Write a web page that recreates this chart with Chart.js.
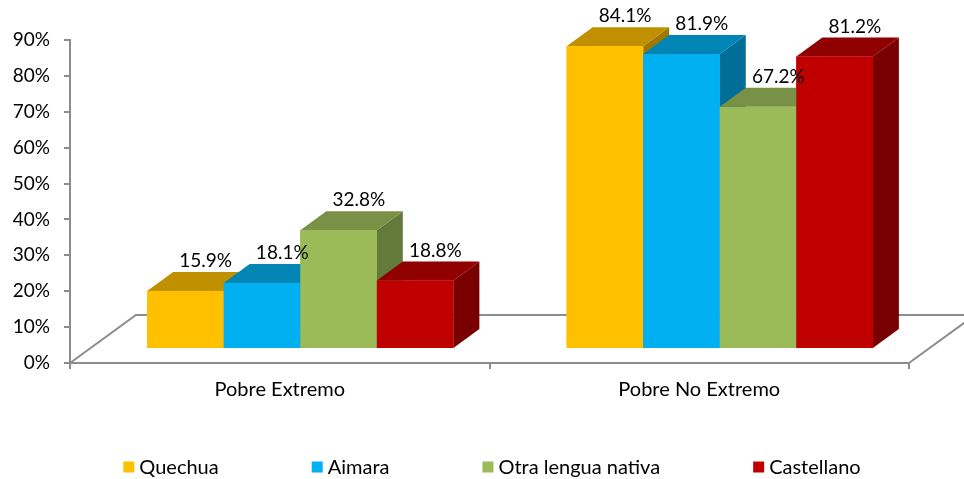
<!DOCTYPE html>
<html><head><meta charset="utf-8">
<script src="https://cdn.jsdelivr.net/npm/chart.js@4.4.1/dist/chart.umd.min.js"></script>
<style>html,body{margin:0;padding:0;background:#fff;}#wrap{width:964px;height:479px;position:relative;}</style>
</head><body><div id="wrap"><canvas id="c"></canvas></div>
<script>
// ---- data ----
const categories = ['Pobre Extremo', 'Pobre No Extremo'];
const seriesNames = ['Quechua', 'Aimara', 'Otra lengua nativa', 'Castellano'];
const quechua = [15.9, 84.1];
const aimara = [18.1, 81.9];
const otra = [32.8, 67.2];
const castellano = [18.8, 81.2];
const yTickValues = [0, 10, 20, 30, 40, 50, 60, 70, 80, 90];

// ---- styles ----
const FONT = 'Lato';
const FS = 19;
const FS_CAT = 20;
const AXIS = '#8c8c8c';
const frontColors = ['#FFC000', '#00B0F0', '#9BBB59', '#C00000'];
const topColors = ['#C09000', '#0085B4', '#789146', '#900000'];
const sideColors = ['#9E7700', '#006E96', '#647A3A', '#780000'];
const BAR_DX = 26, BAR_DY = -19;      // bar depth
const FLOOR_DX = 66, FLOOR_DY = -48;  // floor depth
const FRONT_DX = 20.5, FRONT_DY = -15; // bar front plane offset from floor front edge
const PLOT_W = 839, PLOT_H = 323;     // plot area size (for shifted bar scales)

const seriesValues = [quechua, aimara, otra, castellano];
const catShift = FRONT_DX / (PLOT_W / categories.length);
const valShift = -FRONT_DY / (PLOT_H / 90);

const datasets = seriesNames.map((name, i) => ({
  label: name,
  data: seriesValues[i].map((v, k) => ({ x: k, y: v })),
  backgroundColor: frontColors[i],
  borderWidth: 0,
  xAxisID: 'xb',
  yAxisID: 'yb',
  categoryPercentage: 0.73,
  barPercentage: 1.0,
  clip: false
}));

const shade3d = {
  id: 'shade3d',
  beforeDatasetsDraw(chart) {
    const ctx = chart.ctx, a = chart.chartArea;
    ctx.save();
    ctx.strokeStyle = AXIS;
    ctx.lineWidth = 2;
    ctx.beginPath();
    ctx.moveTo(a.left, a.bottom);
    ctx.lineTo(a.left + FLOOR_DX, a.bottom + FLOOR_DY);
    ctx.lineTo(a.right + FLOOR_DX, a.bottom + FLOOR_DY);
    ctx.moveTo(a.right, a.bottom);
    ctx.lineTo(a.right + FLOOR_DX, a.bottom + FLOOR_DY);
    ctx.stroke();
    ctx.restore();
  },
  afterDatasetsDraw(chart) {
    const ctx = chart.ctx;
    const items = [];
    chart.data.datasets.forEach((ds, di) => {
      chart.getDatasetMeta(di).data.forEach((el, k) => items.push({ el, di, k }));
    });
    items.sort((p, q) => p.el.x - q.el.x);
    ctx.save();
    items.forEach(({ el, di }) => {
      const l = el.x - el.width / 2, r = el.x + el.width / 2, t = el.y, b = el.base;
      ctx.fillStyle = sideColors[di];
      ctx.beginPath();
      ctx.moveTo(r, t); ctx.lineTo(r + BAR_DX, t + BAR_DY);
      ctx.lineTo(r + BAR_DX, b + BAR_DY); ctx.lineTo(r, b); ctx.closePath(); ctx.fill();
      ctx.fillStyle = topColors[di];
      ctx.beginPath();
      ctx.moveTo(l, t); ctx.lineTo(r, t); ctx.lineTo(r + BAR_DX, t + BAR_DY);
      ctx.lineTo(l + BAR_DX, t + BAR_DY); ctx.closePath(); ctx.fill();
      ctx.fillStyle = frontColors[di];
      ctx.fillRect(l, t, r - l, b - t);
    });
    ctx.fillStyle = '#000';
    ctx.font = FS + 'px ' + FONT;
    ctx.textAlign = 'center';
    ctx.textBaseline = 'middle';
    items.forEach(({ el, di, k }) => {
      const v = seriesValues[di][k];
      ctx.fillText(v.toFixed(1) + '%', el.x + BAR_DX * 0.78, el.y + BAR_DY - 11);
    });
    ctx.restore();
  },
  afterDraw(chart) {
    const ctx = chart.ctx;
    ctx.save();
    ctx.font = FS_CAT + 'px ' + FONT;
    ctx.textBaseline = 'middle';
    ctx.textAlign = 'left';
    const box = 11, gapBox = 5, gapItem = 93, yMid = 467;
    const widths = chart.data.datasets.map(ds => box + gapBox + ctx.measureText(ds.label).width);
    const total = widths.reduce((s, w) => s + w, 0) + gapItem * (widths.length - 1);
    let x = 492 - total / 2;
    chart.data.datasets.forEach((ds, i) => {
      ctx.fillStyle = ds.backgroundColor;
      ctx.fillRect(x, yMid - box / 2, box, box);
      ctx.fillStyle = '#000';
      ctx.fillText(ds.label, x + box + gapBox, yMid + 1);
      x += widths[i] + gapItem;
    });
    ctx.restore();
  }
};

new Chart(document.getElementById('c'), {
  type: 'bar',
  data: { labels: categories, datasets },
  plugins: [shade3d],
  options: {
    responsive: true,
    maintainAspectRatio: false,
    animation: false,
    events: [],
    layout: { padding: { left: 0, right: 964 - 70 - PLOT_W, top: 40, bottom: 0 } },
    plugins: { legend: { display: false }, tooltip: { enabled: false } },
    scales: {
      x: {
        type: 'category',
        position: 'bottom',
        offset: true,
        grid: { display: true, offset: true, drawOnChartArea: false, drawTicks: true, tickLength: 6, color: AXIS, lineWidth: 2 },
        border: { display: true, color: AXIS, width: 2 },
        ticks: { color: '#000', font: { family: FONT, size: FS_CAT }, padding: 9, maxRotation: 0 },
        afterFit(s) { s.height = 479 - 40 - PLOT_H; }
      },
      y: {
        type: 'linear',
        position: 'left',
        min: 0, max: 90,
        afterBuildTicks(s) { s.ticks = yTickValues.map(v => ({ value: v })); },
        grid: { display: true, drawOnChartArea: false, drawTicks: true, tickLength: 6, color: AXIS, lineWidth: 2 },
        border: { display: true, color: AXIS, width: 2 },
        ticks: { color: '#000', font: { family: FONT, size: FS }, padding: 14, callback: v => v + '%' },
        afterFit(s) { s.width = 70; }
      },
      xb: {
        type: 'linear', display: false, offset: false,
        grid: { offset: false },
        min: -0.5 - catShift, max: categories.length - 0.5 - catShift,
        afterBuildTicks(s) { s.ticks = categories.map((c, k) => ({ value: k })); }
      },
      yb: {
        type: 'linear', display: false,
        min: -valShift, max: 90 - valShift
      }
    }
  }
});
</script></body></html>
